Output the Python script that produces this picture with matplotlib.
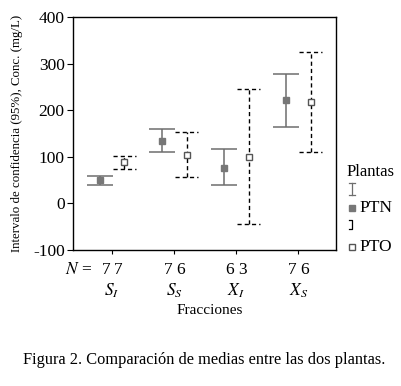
import matplotlib
matplotlib.use('Agg')
import matplotlib.pyplot as plt
from matplotlib.lines import Line2D

plt.rcParams['font.family'] = ['Liberation Serif', 'DejaVu Serif']
plt.rcParams['mathtext.fontset'] = 'stix'
plt.rcParams['axes.unicode_minus'] = False

# datos
fracciones = ['$S_I$', '$S_S$', '$X_I$', '$X_S$']
n_ptn = [7, 7, 6, 7]
n_pto = [7, 6, 3, 6]
media_ptn = [50, 133, 77, 221]
inf_ptn = [39, 110, 39, 163]
sup_ptn = [60, 159, 116, 277]
media_pto = [88, 103, 99, 217]
inf_pto = [75, 56, -45, 110]
sup_pto = [101, 153, 245, 325]

pos = [1, 2, 3, 4]
gris = '#6e6e6e'
guion = (0, (3, 2.2))

fig = plt.figure(figsize=(4.02, 3.86), dpi=100)
ax = fig.add_axes([0.1816, 0.352, 0.6542, 0.604])

# PTN: linea continua gris
x1 = [p - 0.2 for p in pos]
err1 = [[m - l for m, l in zip(media_ptn, inf_ptn)], [u - m for m, u in zip(media_ptn, sup_ptn)]]
ax.errorbar(x1, media_ptn, yerr=err1, fmt='s', color=gris, ms=4.5, mfc='#777777', mec='#777777',
            ecolor=gris, elinewidth=1.1, capsize=9.5, capthick=1.1)

# PTO: linea discontinua negra
x2 = [p + 0.2 for p in pos]
ax.vlines(x2, inf_pto, sup_pto, colors='black', linestyles=guion, lw=1.0)
ax.hlines(inf_pto, [x - 0.19 for x in x2], [x + 0.19 for x in x2], colors='black',
          linestyles=guion, lw=1.0)
ax.hlines(sup_pto, [x - 0.19 for x in x2], [x + 0.19 for x in x2], colors='black',
          linestyles=guion, lw=1.0)
ax.plot(x2, media_pto, 's', ms=4.5, mfc='white', mec='#555555', mew=1.0, zorder=5)

ax.set_xlim(0.37, 4.61)
ax.set_ylim(-100, 400)
ax.set_yticks([-100, 0, 100, 200, 300, 400])
ax.set_xticks(pos)
ax.set_xticklabels([])
ax.tick_params(axis='y', labelsize=12.5, length=4, direction='out', pad=2)
ax.tick_params(axis='x', length=3, direction='out')
for s in ax.spines.values():
    s.set_linewidth(1.0)
ax.set_ylabel('Intervalo de confidencia (95%), Conc. (mg/L)', fontsize=9.3, labelpad=7)

trans = ax.get_xaxis_transform()
ax.text(0.24, -0.086, '$N$ =', transform=trans, fontsize=12.5, ha='left', va='center')
for p, a, b, f in zip(pos, n_ptn, n_pto, fracciones):
    ax.text(p - 0.1, -0.086, str(a), transform=trans, fontsize=12.5, ha='center', va='center')
    ax.text(p + 0.1, -0.086, str(b), transform=trans, fontsize=12.5, ha='center', va='center')
    ax.text(p, -0.175, f, transform=trans, fontsize=12.5, ha='center', va='center')
ax.text(0.52, -0.26, 'Fracciones', transform=ax.transAxes, fontsize=11, ha='center', va='center')

# leyenda
fig.text(347 / 402, 1 - 172 / 386, 'Plantas', fontsize=12, ha='left', va='center')
lx = 352 / 402
fig.add_artist(Line2D([lx, lx], [1 - 183 / 386, 1 - 195 / 386], color=gris, lw=0.9))
fig.add_artist(Line2D([lx - 3 / 402, lx + 3 / 402], [1 - 183 / 386] * 2, color=gris, lw=0.9))
fig.add_artist(Line2D([lx - 3 / 402, lx + 3 / 402], [1 - 195 / 386] * 2, color=gris, lw=0.9))
fig.add_artist(Line2D([lx], [1 - 208 / 386], marker='s', ms=4, mfc='#777777', mec='#777777'))
fig.text(359 / 402, 1 - 208 / 386, 'PTN', fontsize=12.5, ha='left', va='center')
fig.add_artist(Line2D([lx - 3 / 402, lx, lx, lx - 3 / 402],
                      [1 - 220 / 386, 1 - 220 / 386, 1 - 229 / 386, 1 - 229 / 386],
                      color='black', lw=0.9))
fig.add_artist(Line2D([lx], [1 - 247 / 386], marker='s', ms=4, mfc='white', mec='#555555'))
fig.text(359 / 402, 1 - 247 / 386, 'PTO', fontsize=12.5, ha='left', va='center')

fig.text(0.508, 1 - 360 / 386, 'Figura 2. Comparación de medias entre las dos plantas.',
         fontsize=11.8, ha='center', va='center')

fig.savefig('out.png', dpi=100)
